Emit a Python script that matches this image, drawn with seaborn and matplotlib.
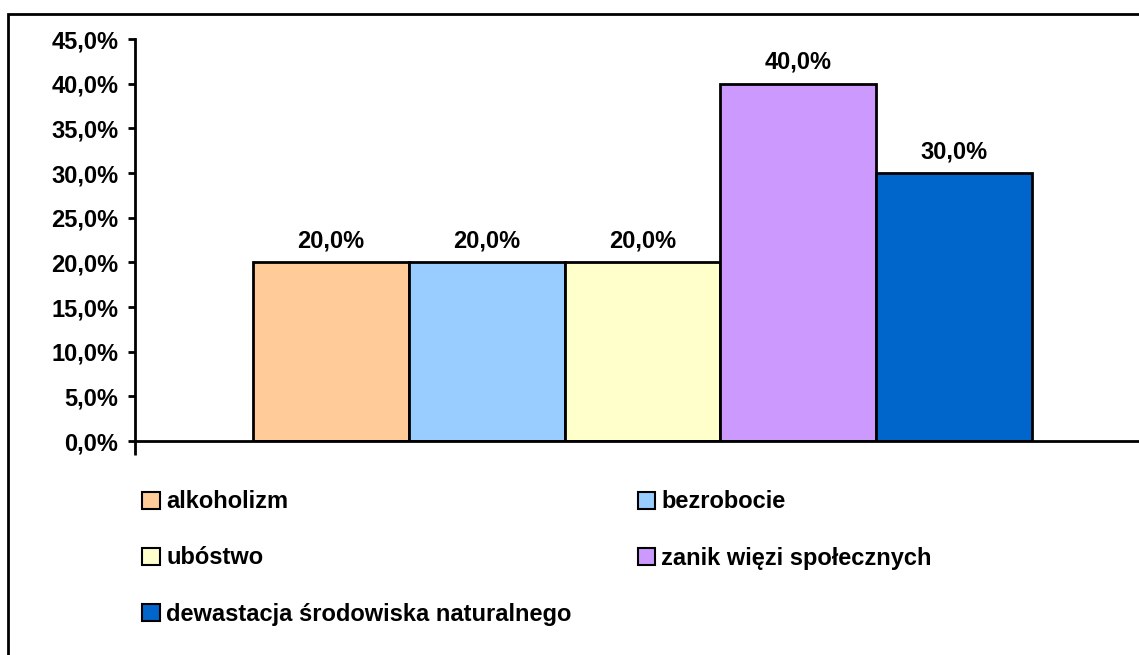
import matplotlib
matplotlib.use("Agg")
import matplotlib.pyplot as plt
from matplotlib.patches import Patch, Rectangle
from matplotlib.ticker import FuncFormatter, MultipleLocator
import seaborn as sns
import pandas as pd

# data
categories = ["alkoholizm", "bezrobocie", "ubóstwo",
              "zanik więzi społecznych", "dewastacja środowiska naturalnego"]
values = [20.0, 20.0, 20.0, 40.0, 30.0]
colors = ["#FFCC99", "#99CCFF", "#FFFFCC", "#CC99FF", "#0066CC"]

sns.set_style("ticks")
plt.rcParams["font.family"] = ["Liberation Sans", "DejaVu Sans"]
plt.rcParams["font.weight"] = "bold"
plt.rcParams["text.color"] = "black"
plt.rcParams["ytick.color"] = "black"
plt.rcParams["xtick.color"] = "black"

df = pd.DataFrame({"grp": ["" for _ in categories], "cat": categories, "val": values})

fig = plt.figure(figsize=(11.39, 6.55), dpi=100)
ax = fig.add_axes([135 / 1139, 214 / 655, 1015 / 1139, 402 / 655])

sns.barplot(data=df, x="grp", y="val", hue="cat", hue_order=categories,
            palette=colors, width=0.7675, edgecolor="black", linewidth=2,
            saturation=1, legend=False, ax=ax)

fmt = lambda v: f"{v:.1f}%".replace(".", ",")
for cont in ax.containers:
    ax.bar_label(cont, labels=[fmt(v) for v in cont.datavalues], padding=7,
                 fontsize=17, fontweight="bold", color="black")

ax.set_xlim(-0.5, 0.5)
ax.set_ylim(0, 45)
ax.yaxis.set_major_locator(MultipleLocator(5))
ax.yaxis.set_major_formatter(FuncFormatter(lambda v, p: fmt(v)))
ax.set_xticks([-0.5])
ax.set_xticklabels([""])
ax.tick_params(axis="x", bottom=True, direction="out", length=10, width=2, color="black")
ax.tick_params(axis="y", left=True, direction="out", length=5, width=2, color="black",
               labelsize=17, labelcolor="black", pad=7)
for lbl in ax.get_yticklabels():
    lbl.set_fontweight("bold")
ax.set_xlabel("")
ax.set_ylabel("")
sns.despine(ax=ax, top=True, right=True)
for s in ["left", "bottom"]:
    ax.spines[s].set_linewidth(2)
    ax.spines[s].set_color("black")

# legend below, row-wise order for 2 columns
handles = [Patch(facecolor=c, edgecolor="black", linewidth=1.5, label=l)
           for l, c in zip(categories, colors)]
order = [0, 2, 4, 1, 3]
fig.legend([handles[i] for i in order], [categories[i] for i in order],
           ncol=2, loc="upper left", bbox_to_anchor=(133 / 1139, 1 - 481 / 655),
           frameon=False, prop={"weight": "bold", "size": 17},
           labelcolor="black",
           handlelength=0.75, handleheight=0.75, handletextpad=0.25,
           labelspacing=1.4, columnspacing=2.8, borderaxespad=0)

# outer chart frame (right/bottom edges fall off the picture)
fig.add_artist(Rectangle((8 / 1139, -0.1), 1.2, 1 - 14 / 655 + 0.1,
                         transform=fig.transFigure, fill=False,
                         edgecolor="black", linewidth=2))

fig.savefig("out.png", dpi=100)
